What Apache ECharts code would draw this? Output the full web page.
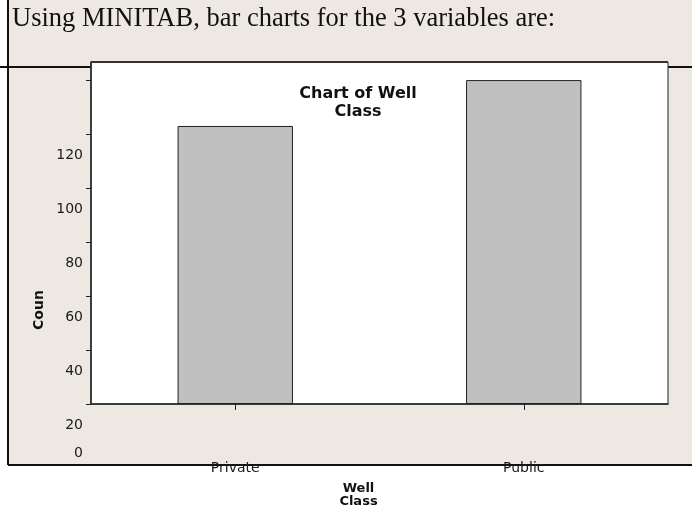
<!DOCTYPE html>
<html>
<head>
<meta charset="utf-8">
<script src="https://cdn.jsdelivr.net/npm/echarts@6/dist/echarts.min.js"></script>
<style>
html,body{margin:0;padding:0;background:#fff;}
#chart_well{width:692px;height:514px;}
</style>
</head>
<body>
<div id="chart_well"></div>
<script>
// Chart of Well Class
var categories = ['Private', 'Public'];
var counts = [103, 120];
var yMax = 126.7;
var yStep = 20;

var Echarts = echarts.init(document.getElementById('chart_well'));
var option = {
    backgroundColor: '#fff',
    animation: false,
    graphic: [
        // beige page area
        {type: 'rect', z: -10, shape: {x: 8, y: 0, width: 684, height: 465}, style: {fill: '#ede9e2'}},
        {type: 'line', z: -5, shape: {x1: 8, y1: 0, x2: 8, y2: 465}, style: {stroke: '#111', lineWidth: 2}},
        {type: 'line', z: -5, shape: {x1: 8, y1: 465, x2: 692, y2: 465}, style: {stroke: '#111', lineWidth: 2}},
        {type: 'line', z: -5, shape: {x1: 0, y1: 67, x2: 692, y2: 67}, style: {stroke: '#111', lineWidth: 2}},
        {type: 'text', left: 12, top: 6, style: {text: 'Using MINITAB, bar charts for the 3 variables are:', font: '26.5px "Liberation Serif"', fill: '#111'}},
        {type: 'line', z: 10, shape: {x1: 91, y1: 62, x2: 668, y2: 62}, style: {stroke: '#333', lineWidth: 2}},
        {type: 'text', x: 39, y: 310, rotation: Math.PI / 2, style: {text: 'Coun', font: 'bold 14px "DejaVu Sans"', fill: '#111', align: 'center', verticalAlign: 'middle'}}
    ],
    title: {
        text: 'Chart of Well\nClass',
        left: 353,
        top: 80,
        textAlign: 'center',
        textStyle: {fontFamily: 'DejaVu Sans', fontWeight: 'bold', fontSize: 16, lineHeight: 18, color: '#111'}
    },
    grid: {
        left: 91, right: 24, top: 62, bottom: 110,
        show: true, backgroundColor: '#fff', borderColor: '#222', borderWidth: 1
    },
    xAxis: {
        type: 'category',
        data: categories,
        name: 'Well\nClass',
        nameLocation: 'middle',
        nameGap: 78,
        nameTextStyle: {fontFamily: 'DejaVu Sans', fontWeight: 'bold', fontSize: 13, lineHeight: 13, color: '#111', padding: [0, 42, 0, 0]},
        axisLine: {lineStyle: {color: '#222', width: 1.5}},
        axisTick: {show: true, alignWithLabel: true, length: 6, lineStyle: {color: '#222', width: 1}},
        axisLabel: {margin: 57, fontFamily: 'DejaVu Sans', fontSize: 14, color: '#1a1a1a'}
    },
    yAxis: {
        type: 'value',
        min: 0,
        max: yMax,
        interval: yStep,
        axisLine: {show: true, lineStyle: {color: '#222', width: 1.5}},
        axisTick: {show: true, length: 5, lineStyle: {color: '#222'}},
        splitLine: {show: false},
        axisLabel: {
            margin: 8,
            showMaxLabel: false,
            verticalAlign: 'top',
            formatter: function (v) {
                return v === 0 ? '{z|0}' : '{n|' + v + '}';
            },
            rich: {
                n: {fontFamily: 'DejaVu Sans', fontSize: 14, color: '#1a1a1a', lineHeight: 150},
                z: {fontFamily: 'DejaVu Sans', fontSize: 14, color: '#1a1a1a', lineHeight: 98}
            }
        }
    },
    series: [{
        type: 'bar',
        data: counts,
        barWidth: '40%',
        itemStyle: {color: '#c0c0c0', borderColor: '#222', borderWidth: 1}
    }]
};
Echarts.setOption(option);
</script>
</body>
</html>
